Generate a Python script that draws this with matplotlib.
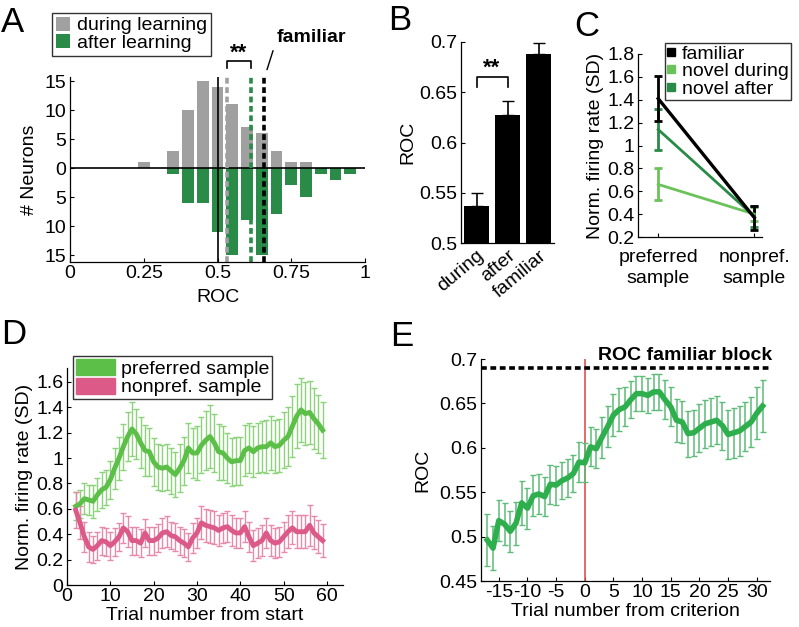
import numpy as np
import matplotlib.pyplot as plt
from matplotlib.patches import Patch
from matplotlib.lines import Line2D
from matplotlib.ticker import FormatStrFormatter

plt.rcParams['font.family'] = ['Liberation Sans', 'DejaVu Sans']
plt.rcParams['font.size'] = 14
plt.rcParams['xtick.direction'] = 'in'
plt.rcParams['ytick.direction'] = 'in'
plt.rcParams['axes.linewidth'] = 0.9
plt.rcParams['axes.labelpad'] = 2
plt.rcParams['xtick.major.pad'] = 2.5
plt.rcParams['ytick.major.pad'] = 2.5

# ---- data ----
# A: ROC histogram
roc_bins = [0.25, 0.30, 0.35, 0.40, 0.45, 0.50, 0.55, 0.60, 0.65, 0.70, 0.75, 0.80, 0.85, 0.90, 0.95]
during_counts = [1, 0, 3, 10, 15, 14, 11, 7, 6, 3, 1, 1, 0, 0, 0]
after_counts = [0, 0, 1, 6, 6, 11, 15, 9, 15, 8, 3, 5, 1, 2, 1]
mean_during, mean_after, mean_familiar = 0.532, 0.612, 0.658

# B: mean ROC
b_groups = ['during', 'after', 'familiar']
b_roc = [0.537, 0.627, 0.688]
b_err = [0.013, 0.014, 0.011]

# C: firing rates
c_conds = ['preferred\nsample', 'nonpref.\nsample']
c_familiar = [1.41, 0.37]
c_familiar_err = [0.20, 0.105]
c_during = [0.66, 0.40]
c_during_err = [0.14, 0.06]
c_after = [1.14, 0.38]
c_after_err = [0.18, 0.09]

# D: firing rate over trials
d_trials = list(range(2, 60))
d_pref = [0.62, 0.64, 0.68, 0.67, 0.66, 0.71, 0.75, 0.77, 0.83, 0.92,
          1.00, 1.09, 1.17, 1.23, 1.19, 1.12, 1.06, 1.05, 0.97, 0.93,
          0.92, 0.93, 0.90, 0.87, 0.92, 0.98, 1.08, 1.04, 1.04, 1.10,
          1.14, 1.17, 1.12, 1.05, 1.04, 1.00, 0.97, 0.98, 0.98, 1.06,
          1.08, 1.05, 1.08, 1.09, 1.09, 1.12, 1.09, 1.10, 1.14, 1.17,
          1.25, 1.33, 1.38, 1.35, 1.36, 1.31, 1.27, 1.22]
d_pref_err = [0.11, 0.11, 0.12, 0.12, 0.13, 0.13, 0.14, 0.14, 0.15, 0.16,
              0.17, 0.18, 0.19, 0.21, 0.20, 0.20, 0.20, 0.19, 0.19, 0.18,
              0.18, 0.18, 0.18, 0.18, 0.19, 0.19, 0.20, 0.20, 0.21, 0.22,
              0.23, 0.25, 0.23, 0.22, 0.21, 0.20, 0.19, 0.19, 0.19, 0.20,
              0.20, 0.20, 0.20, 0.20, 0.21, 0.21, 0.21, 0.21, 0.22, 0.23,
              0.24, 0.25, 0.25, 0.25, 0.25, 0.24, 0.23, 0.22]
d_nonpref = [0.59, 0.49, 0.38, 0.30, 0.28, 0.31, 0.35, 0.34, 0.31, 0.34,
             0.38, 0.45, 0.42, 0.35, 0.35, 0.33, 0.41, 0.35, 0.35, 0.37,
             0.41, 0.42, 0.39, 0.38, 0.35, 0.33, 0.30, 0.37, 0.41, 0.49,
             0.47, 0.46, 0.45, 0.43, 0.45, 0.46, 0.43, 0.41, 0.41, 0.46,
             0.38, 0.31, 0.33, 0.35, 0.41, 0.35, 0.33, 0.34, 0.38, 0.42,
             0.45, 0.42, 0.42, 0.42, 0.47, 0.41, 0.38, 0.35]
d_nonpref_err = [0.14, 0.13, 0.12, 0.12, 0.11, 0.11, 0.11, 0.11, 0.11, 0.11,
                 0.11, 0.12, 0.12, 0.11, 0.11, 0.11, 0.11, 0.11, 0.11, 0.11,
                 0.12, 0.12, 0.11, 0.11, 0.11, 0.11, 0.11, 0.12, 0.12, 0.13,
                 0.13, 0.13, 0.13, 0.12, 0.12, 0.12, 0.12, 0.12, 0.12, 0.12,
                 0.12, 0.12, 0.12, 0.12, 0.12, 0.12, 0.12, 0.12, 0.12, 0.13,
                 0.13, 0.13, 0.13, 0.13, 0.16, 0.13, 0.13, 0.13]

# E: ROC relative to criterion
e_trials = list(range(-17, 32))
e_roc = [0.496, 0.487, 0.518, 0.514, 0.506, 0.515, 0.538, 0.532, 0.546, 0.548,
         0.545, 0.559, 0.558, 0.563, 0.566, 0.571, 0.584, 0.583, 0.601, 0.599,
         0.612, 0.624, 0.637, 0.643, 0.646, 0.654, 0.661, 0.661, 0.659, 0.663,
         0.663, 0.654, 0.646, 0.631, 0.629, 0.616, 0.617, 0.622, 0.627, 0.629,
         0.631, 0.625, 0.615, 0.617, 0.619, 0.624, 0.629, 0.639, 0.647]
e_err = [0.029, 0.025, 0.023, 0.024, 0.023, 0.024, 0.025, 0.023, 0.023, 0.022,
         0.022, 0.022, 0.022, 0.021, 0.021, 0.021, 0.022, 0.022, 0.022, 0.022,
         0.023, 0.023, 0.024, 0.024, 0.022, 0.021, 0.020, 0.020, 0.020, 0.020,
         0.020, 0.022, 0.022, 0.024, 0.024, 0.026, 0.026, 0.027, 0.027, 0.027,
         0.027, 0.027, 0.028, 0.028, 0.028, 0.028, 0.028, 0.029, 0.029]
e_familiar = 0.69

gray = '#a0a0a0'
dkgreen = '#2a8a48'
ltgreen = '#6cc25a'
pgreen = '#5cbf48'
pink = '#dc5a88'
egreen = '#2eae4c'

W, H = 799, 627
fig = plt.figure(figsize=(W / 100, H / 100), dpi=100)


def box(l, t, r, b):
    return [l / W, 1 - b / H, (r - l) / W, (b - t) / H]


def clean(ax):
    ax.spines['top'].set_visible(False)
    ax.spines['right'].set_visible(False)
    ax.tick_params(length=3, width=0.8)


# ---------- A ----------
axA = fig.add_axes(box(70, 77, 365, 262))
axA.bar(roc_bins, during_counts, width=0.04, color=gray, label='during learning')
axA.bar(roc_bins, [-c for c in after_counts], width=0.04, color=dkgreen, label='after learning')
axA.axhline(0, color='k', lw=1.2)
axA.axvline(0.5, color='k', lw=1.2)
for xm, col in [(mean_during, gray), (mean_after, dkgreen), (mean_familiar, 'k')]:
    axA.axvline(xm, color=col, lw=2.6, linestyle=(0, (1.6, 1.0)))
axA.set_xlim(0, 1)
axA.set_ylim(-16.2, 15.7)
axA.set_xticks([0, 0.25, 0.5, 0.75, 1])
axA.set_xticklabels(['0', '0.25', '0.5', '0.75', '1'])
axA.set_yticks([-15, -10, -5, 0, 5, 10, 15])
axA.set_yticklabels(['15', '10', '5', '0', '5', '10', '15'])
axA.set_xlabel('ROC', labelpad=5)
axA.set_ylabel('# Neurons', labelpad=5)
clean(axA)
axA.plot([mean_during, mean_during, mean_after, mean_after], [17.2, 18.4, 18.4, 17.2],
         color='k', lw=1.2, clip_on=False)
axA.text((mean_during + mean_after) / 2, 18.0, '**', ha='center', va='bottom',
         fontsize=16, fontweight='bold')
axA.plot([0.668, 0.688], [17.0, 20.2], color='k', lw=1, clip_on=False)
axA.text(0.70, 21.0, 'familiar', ha='left', va='bottom', fontsize=14, fontweight='bold')
axA.legend(loc='upper left', bbox_to_anchor=(52 / W, 1 - 13 / H), bbox_transform=fig.transFigure,
           frameon=True, fancybox=False, edgecolor='k', handlelength=0.7, handleheight=0.7,
           handletextpad=0.4, borderpad=0.2, labelspacing=0.0, borderaxespad=0, fontsize=14)

# ---------- B ----------
axB = fig.add_axes(box(461, 42, 554, 243))
xb = [1, 2, 3]
axB.bar(xb, b_roc, width=0.78, color='k')
axB.errorbar(xb, b_roc, yerr=[[0, 0, 0], b_err], fmt='none', ecolor='k', elinewidth=1.2, capsize=4)
axB.set_xlim(0.5, 3.5)
axB.set_ylim(0.5, 0.7)
axB.set_yticks([0.5, 0.55, 0.6, 0.65, 0.7])
axB.yaxis.set_major_formatter(FormatStrFormatter('%g'))
axB.set_xticks(xb)
axB.set_xticklabels(b_groups, rotation=40, ha='right', rotation_mode='anchor')
axB.set_ylabel('ROC', labelpad=2)
clean(axB)
axB.tick_params(axis='x', length=0, pad=3)
axB.plot([1, 1, 2, 2], [0.655, 0.665, 0.665, 0.655], color='k', lw=1.2)
axB.text(1.5, 0.663, '**', ha='center', va='bottom', fontsize=16, fontweight='bold')

# ---------- C ----------
axC = fig.add_axes(box(638, 54, 762, 237))
xc = [1, 2]
axC.errorbar(xc, c_during, yerr=c_during_err, color=ltgreen, lw=2, capsize=3, capthick=2, elinewidth=2)
axC.errorbar(xc, c_after, yerr=c_after_err, color=dkgreen, lw=2, capsize=3, capthick=2, elinewidth=2)
axC.errorbar(xc, c_familiar, yerr=c_familiar_err, color='k', lw=2.4, capsize=3, capthick=2, elinewidth=2)
axC.set_xlim(0.79, 2.08)
axC.set_ylim(0.2, 1.8)
axC.set_yticks(np.arange(0.2, 1.81, 0.2))
axC.yaxis.set_major_formatter(FormatStrFormatter('%g'))
axC.set_xticks(xc)
axC.set_xticklabels(c_conds, linespacing=1.25)
axC.set_ylabel('Norm. firing rate (SD)', labelpad=2)
clean(axC)
axC.tick_params(axis='x', pad=9)
c_handles = [Line2D([], [], marker='s', ls='none', color=c, markersize=6)
             for c in ['k', ltgreen, dkgreen]]
axC.legend(c_handles, ['familiar', 'novel during', 'novel after'], loc='upper right',
           bbox_to_anchor=(791 / W, 1 - 43 / H), bbox_transform=fig.transFigure,
           frameon=True, fancybox=False, edgecolor='k', handlelength=0.5, handletextpad=0.3,
           borderpad=0.1, labelspacing=0.0, borderaxespad=0, fontsize=14)

# ---------- D ----------
axD = fig.add_axes(box(67, 368, 343, 585))
axD.errorbar(d_trials, d_pref, yerr=d_pref_err, fmt='none', ecolor='#8cd27a', elinewidth=1, capsize=2)
axD.errorbar(d_trials, d_nonpref, yerr=d_nonpref_err, fmt='none', ecolor='#e68aaa', elinewidth=1, capsize=2)
axD.plot(d_trials, d_pref, color=pgreen, lw=3.5)
axD.plot(d_trials, d_nonpref, color=pink, lw=3.5)
axD.set_xlim(0, 63.7)
axD.set_ylim(0, 1.71)
axD.set_xticks([0, 10, 20, 30, 40, 50, 60])
axD.set_yticks(np.arange(0, 1.61, 0.2))
axD.yaxis.set_major_formatter(FormatStrFormatter('%g'))
axD.set_xlabel('Trial number from start', labelpad=1)
axD.set_ylabel('Norm. firing rate (SD)', labelpad=2)
clean(axD)
axD.legend([Patch(color=pgreen), Patch(color=pink)], ['preferred sample', 'nonpref. sample'],
           loc='upper left', bbox_to_anchor=(73 / W, 1 - 356 / H), bbox_transform=fig.transFigure,
           frameon=True, fancybox=False, edgecolor='k', handlelength=2.0, handleheight=0.9,
           handletextpad=0.3, borderpad=0.15, labelspacing=0.0, borderaxespad=0, fontsize=14)

# ---------- E ----------
axE = fig.add_axes(box(481, 359, 770, 581))
axE.axvline(0, color='#e05050', lw=1.2)
axE.errorbar(e_trials, e_roc, yerr=e_err, fmt='none', ecolor='#5cbc78', elinewidth=1.1, capsize=2.5)
axE.plot(e_trials, e_roc, color=egreen, lw=4)
axE.plot([-18.1, 32.3], [e_familiar, e_familiar], color='k', lw=2.6,
         linestyle=(0, (1.6, 1.0)), clip_on=False)
axE.text(32.6, 0.694, 'ROC familiar block', ha='right', va='bottom', fontsize=14, fontweight='bold')
axE.set_xlim(-18.1, 32.3)
axE.set_ylim(0.45, 0.7)
axE.set_xticks(range(-15, 31, 5))
axE.set_xticklabels([str(t) for t in range(-15, 31, 5)])
axE.set_yticks([0.45, 0.5, 0.55, 0.6, 0.65, 0.7])
axE.yaxis.set_major_formatter(FormatStrFormatter('%g'))
axE.set_xlabel('Trial number from criterion', labelpad=1)
axE.set_ylabel('ROC', labelpad=6)
clean(axE)

# panel letters
for lbl, px, py in [('A', 1, 6), ('B', 388, 4), ('C', 574, 10), ('D', 1, 318), ('E', 390, 320)]:
    fig.text(px / W, 1 - py / H, lbl, fontsize=25, va='top', ha='left')

fig.savefig('out.png', dpi=100)
